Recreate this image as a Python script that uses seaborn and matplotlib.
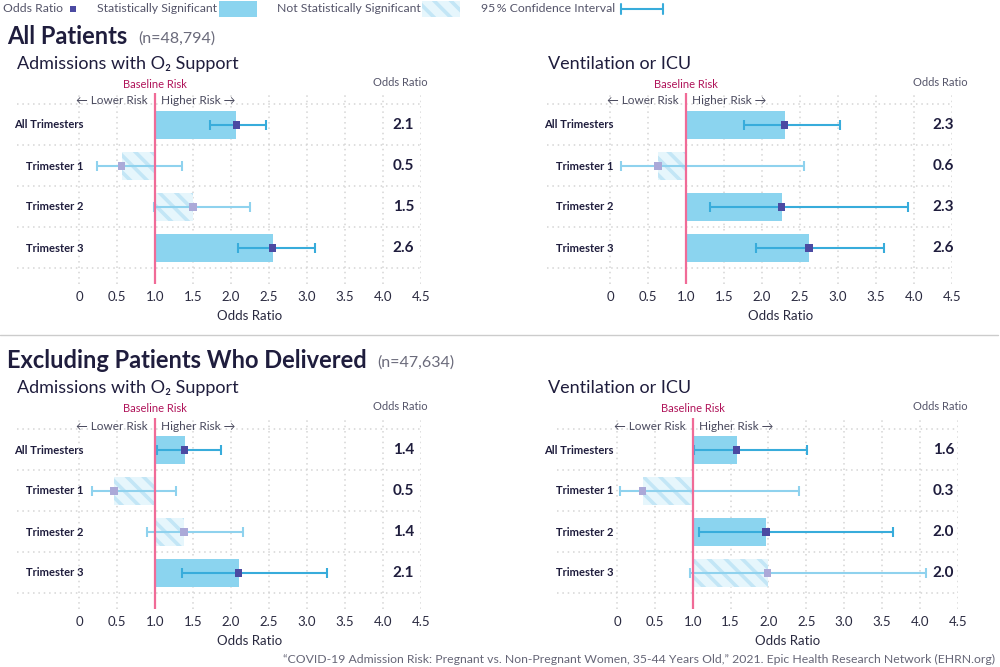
import numpy as np
import pandas as pd
import matplotlib
matplotlib.use("Agg")
import matplotlib.pyplot as plt
import seaborn as sns
from matplotlib.patches import Rectangle

groups = ["All Trimesters", "Trimester 1", "Trimester 2", "Trimester 3"]
xtick_vals = [0, 0.5, 1.0, 1.5, 2.0, 2.5, 3.0, 3.5, 4.0, 4.5]
xtick_labels = ["0", "0.5", "1.0", "1.5", "2.0", "2.5", "3.0", "3.5", "4.0", "4.5"]

# All patients - admissions with O2 support
o2_all_or = [2.07, 0.56, 1.50, 2.55]
o2_all_lo = [1.72, 0.24, 0.99, 2.09]
o2_all_hi = [2.46, 1.35, 2.25, 3.11]
o2_all_sig = [True, False, False, True]
o2_all_txt = ["2.1", "0.5", "1.5", "2.6"]

# All patients - ventilation or ICU
icu_all_or = [2.30, 0.63, 2.26, 2.62]
icu_all_lo = [1.76, 0.15, 1.32, 1.92]
icu_all_hi = [3.02, 2.55, 3.92, 3.60]
icu_all_sig = [True, False, True, True]
icu_all_txt = ["2.3", "0.6", "2.3", "2.6"]

# Excluding delivered - admissions with O2 support
o2_ex_or = [1.39, 0.46, 1.38, 2.10]
o2_ex_lo = [1.03, 0.17, 0.89, 1.36]
o2_ex_hi = [1.87, 1.27, 2.16, 3.26]
o2_ex_sig = [True, False, False, True]
o2_ex_txt = ["1.4", "0.5", "1.4", "2.1"]

# Excluding delivered - ventilation or ICU
icu_ex_or = [1.58, 0.34, 1.97, 1.99]
icu_ex_lo = [1.02, 0.04, 1.08, 0.97]
icu_ex_hi = [2.51, 2.40, 3.64, 4.08]
icu_ex_sig = [True, False, True, False]
icu_ex_txt = ["1.6", "0.3", "2.0", "2.0"]

NAVY = "#1f1d3d"
GREY = "#55556a"
BAR = "#8bd4ef"
HATCH_BG = "#e6f6fc"
HATCH_FG = "#c3e6f6"
MK_SIG = "#4b4aa2"
MK_NS = "#aba9d8"
ERR_SIG = "#38acdb"
ERR_NS = "#8fd2ee"
PINK = "#f06b97"
GRID = "#d5d5d5"

sns.set_theme(style="white")
plt.rcParams["font.family"] = ["Lato", "DejaVu Sans"]
plt.rcParams["hatch.linewidth"] = 2.6

W, H = 1000, 667
fig = plt.figure(figsize=(10, 6.67), dpi=100)

# overlay in pixel coordinates for titles, labels and legend
ov = fig.add_axes([0, 0, 1, 1], zorder=10)
ov.set_xlim(0, W)
ov.set_ylim(H, 0)
ov.set_axis_off()
ov.patch.set_alpha(0)


def draw_panel(odds, lo, hi, sig, txt, x0, unit, gl, row0, lab_r, val_r, head_r):
    top, bot = row0 - 32, row0 + 159
    right = x0 + 4.5 * unit
    ax = fig.add_axes([gl / W, 1 - bot / H, (right - gl) / W, (bot - top) / H])
    ax.set_facecolor("none")
    xmin = (gl - x0) / unit

    for i, (v, s) in enumerate(zip(odds, sig)):
        left, width = (1, v - 1) if v >= 1 else (v, 1 - v)
        if s:
            ax.barh(i, width, left=left, height=0.68, color=BAR, lw=0, zorder=2)
        else:
            ax.barh(i, width, left=left, height=0.68, facecolor=HATCH_BG,
                    edgecolor=HATCH_FG, hatch="\\\\", lw=0, zorder=2)
        ax.errorbar(v, i, xerr=[[v - lo[i]], [hi[i] - v]], fmt="none",
                    ecolor=ERR_SIG if s else ERR_NS, elinewidth=1.5,
                    capsize=3.6, capthick=1.5, zorder=3)

    df = pd.DataFrame({"odds": odds, "row": range(len(odds)),
                       "sig": ["yes" if s else "no" for s in sig]})
    sns.scatterplot(data=df, x="odds", y="row", hue="sig",
                    palette={"yes": MK_SIG, "no": MK_NS}, marker="s", s=28,
                    linewidth=0, legend=False, ax=ax, zorder=4)

    ax.axvline(1, color=PINK, lw=1.6, zorder=5)
    ax.hlines(np.arange(-0.5, 4, 1), xmin, 4.5, colors=GRID,
              linestyles=(0, (1, 2.5)), lw=1.1, zorder=0)
    ax.set_xticks(xtick_vals)
    ax.set_xticklabels(xtick_labels)
    ax.grid(axis="x", color=GRID, linestyle=(0, (1, 2.5)), lw=1.1)
    ax.set_axisbelow(True)
    ax.set_yticks([])
    ax.tick_params(axis="x", length=0, pad=5, labelsize=9.5, labelcolor="#2a2a40")
    ax.set_xlim(xmin, 4.5)
    ax.set_ylim(3.88, -0.78)
    ax.set_xlabel("")
    ax.set_ylabel("")
    for sp in ax.spines.values():
        sp.set_visible(False)

    base = x0 + unit
    ov.text(x0 + 2.25 * unit, row0 + 191, "Odds Ratio", ha="center", va="center",
            fontsize=9.5, color="#2a2a40")
    ov.text(base, row0 - 41, "Baseline Risk", ha="center", va="center",
            fontsize=8, color="#b0145a")
    ov.text(base - 7, row0 - 24, "\u2190 Lower Risk", ha="right", va="center",
            fontsize=8.5, color="#4a4a5e")
    ov.text(base + 6, row0 - 24, "Higher Risk \u2192", ha="left", va="center",
            fontsize=8.5, color="#4a4a5e")
    ov.text(head_r, row0 - 43, "Odds Ratio", ha="right", va="center",
            fontsize=8, color=GREY)
    for i, g in enumerate(groups):
        y = row0 + 41 * i
        ov.text(lab_r, y, g, ha="right", va="center", fontsize=8,
                fontweight="bold", color=NAVY)
        ov.text(val_r, y, txt[i], ha="right", va="center", fontsize=11,
                fontweight="bold", color=NAVY)


draw_panel(o2_all_or, o2_all_lo, o2_all_hi, o2_all_sig, o2_all_txt,
           79, 76, 17, 125, 84, 414, 428)
draw_panel(icu_all_or, icu_all_lo, icu_all_hi, icu_all_sig, icu_all_txt,
           610, 76, 547, 125, 614, 954, 968)
draw_panel(o2_ex_or, o2_ex_lo, o2_ex_hi, o2_ex_sig, o2_ex_txt,
           79, 76, 17, 450, 84, 414, 428)
draw_panel(icu_ex_or, icu_ex_lo, icu_ex_hi, icu_ex_sig, icu_ex_txt,
           617, 75.7, 557, 450, 614, 954, 968)

renderer = fig.canvas.get_renderer()


def section_title(y, title, n_text):
    t = ov.text(7, y, title, fontsize=17, fontweight="bold", color=NAVY, va="center")
    bb = t.get_window_extent(renderer)
    ov.text(bb.x1 + 11, y + 2, n_text, fontsize=11.5, color="#6b6b7b", va="center")


section_title(37, "All Patients", "(n=48,794)")
ov.text(17, 64, "Admissions with O\u2082 Support", fontsize=13, color=NAVY, va="center")
ov.text(548, 64, "Ventilation or ICU", fontsize=13, color=NAVY, va="center")

ov.plot([0, 998], [335, 335], color="#cccccc", lw=1)

section_title(361, "Excluding Patients Who Delivered", "(n=47,634)")
ov.text(17, 388, "Admissions with O\u2082 Support", fontsize=13, color=NAVY, va="center")
ov.text(548, 388, "Ventilation or ICU", fontsize=13, color=NAVY, va="center")

# legend strip
LG = 8.8
ov.text(3, 9, "Odds Ratio", fontsize=LG, color=GREY, va="center")
ov.add_patch(Rectangle((70, 6), 6, 6, color=MK_SIG, lw=0))
ov.text(97, 9, "Statistically Significant", fontsize=LG, color=GREY, va="center")
ov.add_patch(Rectangle((219, 1), 38, 16, color=BAR, lw=0))
ov.text(277, 9, "Not Statistically Significant", fontsize=LG, color=GREY, va="center")
ov.add_patch(Rectangle((422, 1), 38, 16, facecolor=HATCH_BG, edgecolor=HATCH_FG,
                       hatch="\\\\", lw=0))
ov.text(481, 9, "95\u2009% Confidence Interval", fontsize=LG, color=GREY, va="center")
ov.plot([621, 663], [9, 9], color=ERR_SIG, lw=1.5)
ov.plot([621, 621], [4, 14], color=ERR_SIG, lw=1.5)
ov.plot([663, 663], [4, 14], color=ERR_SIG, lw=1.5)

ov.text(995, 659, "\u201cCOVID-19 Admission Risk: Pregnant vs. Non-Pregnant Women, "
        "35-44 Years Old,\u201d 2021. Epic Health Research Network (EHRN.org)",
        ha="right", va="center", fontsize=8.8, color="#666677")

fig.savefig("out.png", dpi=100)
